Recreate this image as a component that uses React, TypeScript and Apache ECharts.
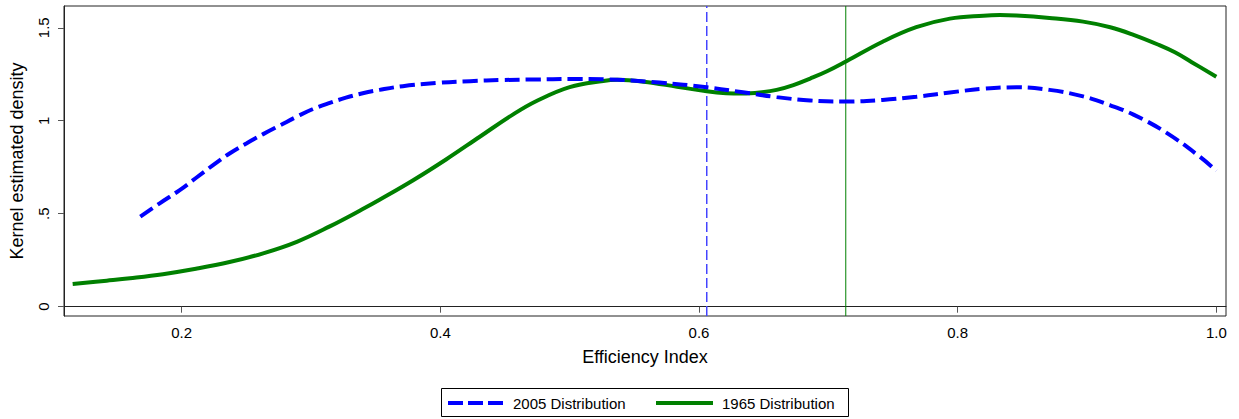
import React, { useEffect, useRef } from "react";
import * as echarts from "echarts";

const greenX = [0.1157, 0.142, 0.160, 0.1855, 0.211, 0.237, 0.263, 0.289, 0.3145, 0.340, 0.353, 0.379, 0.4047, 0.4305, 0.456, 0.474, 0.500, 0.526, 0.537, 0.557, 0.583, 0.606, 0.621, 0.634, 0.647, 0.660, 0.673, 0.686, 0.699, 0.714, 0.742, 0.768, 0.794, 0.820, 0.8326, 0.8455, 0.871, 0.897, 0.918, 0.936, 0.9548, 0.968, 0.981, 1.000];
const greenY = [0.122, 0.140, 0.153, 0.175, 0.204, 0.240, 0.287, 0.349, 0.432, 0.525, 0.575, 0.680, 0.793, 0.914, 1.033, 1.105, 1.181, 1.214, 1.220, 1.210, 1.183, 1.158, 1.148, 1.146, 1.152, 1.166, 1.192, 1.227, 1.266, 1.320, 1.425, 1.503, 1.549, 1.565, 1.568, 1.566, 1.553, 1.533, 1.503, 1.462, 1.410, 1.368, 1.315, 1.237];

const blueX = [0.168, 0.183, 0.1985, 0.211, 0.224, 0.237, 0.250, 0.263, 0.276, 0.289, 0.3015, 0.3145, 0.327, 0.340, 0.353, 0.371, 0.397, 0.423, 0.448, 0.474, 0.500, 0.526, 0.5695, 0.606, 0.634, 0.660, 0.686, 0.711, 0.742, 0.768, 0.794, 0.820, 0.8455, 0.871, 0.897, 0.918, 0.936, 0.9616, 0.987, 1.000];
const blueY = [0.484, 0.556, 0.627, 0.692, 0.760, 0.824, 0.878, 0.928, 0.975, 1.022, 1.063, 1.096, 1.124, 1.148, 1.166, 1.186, 1.203, 1.213, 1.219, 1.222, 1.224, 1.223, 1.205, 1.180, 1.153, 1.127, 1.109, 1.103, 1.112, 1.129, 1.152, 1.172, 1.180, 1.166, 1.131, 1.083, 1.033, 0.935, 0.808, 0.731];

const xTicks = [0.2, 0.4, 0.6, 0.8, 1.0];
const yTicks = [0, 0.5, 1, 1.5];
const yTickLabels = ["0", ".5", "1", "1.5"];

const mean2005 = 0.606;
const mean1965 = 0.7135;

const seriesNames = ["2005 Distribution", "1965 Distribution"];

const X_MIN = 0.109;
const X_MAX = 1.0075;
const Y_MIN = -0.05;
const Y_MAX = 1.617;

const FONT = "'Liberation Sans', Arial, sans-serif";

export default function App() {
  const ref = useRef<HTMLDivElement>(null);
  useEffect(() => {
    const chart = echarts.init(ref.current!, null, { renderer: "svg" });
    const blueData = blueX.map((x, i) => [x, blueY[i]]);
    const greenData = greenX.map((x, i) => [x, greenY[i]]);
    chart.setOption({
      animation: false,
      backgroundColor: "#ffffff",
      textStyle: { fontFamily: FONT },
      grid: {
        left: 64,
        right: 13,
        top: 6,
        bottom: 103,
        show: true,
        borderColor: "#222",
        borderWidth: 1,
        backgroundColor: "transparent",
      },
      xAxis: {
        type: "value",
        min: X_MIN,
        max: X_MAX,
        name: "Efficiency Index",
        nameLocation: "middle",
        nameGap: 32,
        nameTextStyle: { fontSize: 18, color: "#000", fontFamily: FONT },
        axisLine: { show: true, lineStyle: { color: "#222", width: 1 } },
        axisTick: { show: true, length: 6, customValues: xTicks, lineStyle: { color: "#555" } },
        axisLabel: {
          customValues: xTicks,
          formatter: (v: number) => v.toFixed(1),
          fontSize: 15,
          color: "#000",
          margin: 9,
          fontFamily: FONT,
        },
        splitLine: { show: false },
      },
      yAxis: {
        type: "value",
        min: Y_MIN,
        max: Y_MAX,
        name: "Kernel estimated density",
        nameLocation: "middle",
        nameGap: 38,
        nameTextStyle: { fontSize: 18, color: "#000", fontFamily: FONT },
        axisLine: { show: true, lineStyle: { color: "#222", width: 1 } },
        axisTick: { show: true, length: 6, customValues: yTicks, lineStyle: { color: "#555" } },
        axisLabel: {
          customValues: yTicks,
          rotate: 90,
          formatter: (v: number) => {
            const i = yTicks.findIndex((t) => Math.abs(t - v) < 1e-9);
            return i >= 0 ? yTickLabels[i] : "";
          },
          fontSize: 15,
          color: "#000",
          margin: 13,
          fontFamily: FONT,
        },
        splitLine: { show: false },
      },
      graphic: [
        {
          type: "rect",
          shape: { x: 441.5, y: 388.5, width: 407, height: 28 },
          style: { fill: "#fff", stroke: "#000", lineWidth: 1 },
        },
        {
          type: "line",
          shape: { x1: 448, y1: 403, x2: 505, y2: 403 },
          style: { stroke: "#0000ff", lineWidth: 4, lineDash: [15, 5] },
        },
        {
          type: "text",
          x: 513,
          y: 403,
          style: { text: seriesNames[0], fontSize: 15, fill: "#000", fontFamily: FONT, verticalAlign: "middle" },
        },
        {
          type: "line",
          shape: { x1: 656, y1: 403, x2: 713, y2: 403 },
          style: { stroke: "#008000", lineWidth: 4 },
        },
        {
          type: "text",
          x: 722,
          y: 403,
          style: { text: seriesNames[1], fontSize: 15, fill: "#000", fontFamily: FONT, verticalAlign: "middle" },
        },
      ],
      series: [
        {
          name: "mean2005",
          type: "line",
          data: [[mean2005, Y_MIN], [mean2005, Y_MAX]],
          symbol: "none",
          silent: true,
          lineStyle: { color: "#4444ff", width: 1.5, type: [10, 4] },
          z: 1,
        },
        {
          name: "mean1965",
          type: "line",
          data: [[mean1965, Y_MIN], [mean1965, Y_MAX]],
          symbol: "none",
          silent: true,
          lineStyle: { color: "#008000", width: 1, type: "solid" },
          z: 1,
        },
        {
          name: seriesNames[0],
          type: "line",
          data: blueData,
          smooth: 0.4,
          symbol: "none",
          lineStyle: { color: "#0000ff", width: 4, type: [15, 6] },
          itemStyle: { color: "#0000ff" },
          z: 3,
        },
        {
          name: seriesNames[1],
          type: "line",
          data: greenData,
          smooth: 0.4,
          symbol: "none",
          lineStyle: { color: "#008000", width: 4 },
          itemStyle: { color: "#008000" },
          z: 2,
        },
      ],
    });
    return () => chart.dispose();
  }, []);
  return (
    <div
      ref={ref}
      style={{ position: "fixed", left: 0, top: 0, width: 1239, height: 419, background: "#fff" }}
    />
  );
}
